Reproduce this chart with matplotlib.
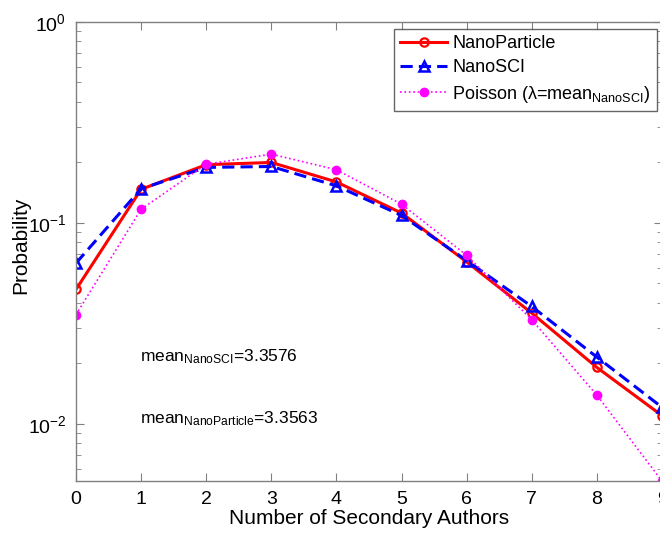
import matplotlib
matplotlib.use("Agg")
import matplotlib.pyplot as plt
from matplotlib.ticker import LogLocator, NullFormatter, FixedLocator

plt.rcParams['font.family'] = ['Liberation Sans', 'DejaVu Sans']
plt.rcParams['mathtext.fontset'] = 'custom'
plt.rcParams['mathtext.rm'] = 'Liberation Sans'
plt.rcParams['mathtext.it'] = 'Liberation Sans:italic'
plt.rcParams['mathtext.sf'] = 'Liberation Sans'
plt.rcParams['mathtext.default'] = 'regular'

x_vals = [0, 1, 2, 3, 4, 5, 6, 7, 8, 9]
nano_particle = [0.0467, 0.147, 0.195, 0.200, 0.160, 0.112, 0.064, 0.0356, 0.0191, 0.0110]
nano_sci = [0.0631, 0.148, 0.189, 0.191, 0.153, 0.109, 0.065, 0.0384, 0.0215, 0.0121]
poisson = [0.035, 0.117, 0.196, 0.220, 0.184, 0.124, 0.069, 0.033, 0.0139, 0.0052]
x_ticks = [0, 1, 2, 3, 4, 5, 6, 7, 8, 9]

fig = plt.figure(figsize=(6.6, 5.34), dpi=100)
ax = fig.add_axes([76/660, 53/534, 586/660, 459/534])

ax.plot(x_vals, nano_particle, '-', color='#ff0000', lw=2.2, marker='o', ms=6,
        mfc='none', mec='#ff0000', mew=1.6, label='NanoParticle')
ax.plot(x_vals, nano_sci, '--', color='#0000ff', lw=2.2, marker='^', ms=7,
        mfc='none', mec='#0000ff', mew=1.8, label='NanoSCI', dashes=(4, 2))
ax.plot(x_vals, poisson, ':', color='#ff00ff', lw=1.2, marker='o', ms=6,
        mfc='#ff00ff', mec='#ff00ff', label=r'Poisson ($\lambda$=mean$_{\mathrm{NanoSCI}}$)')

ax.set_yscale('log')
ax.set_xlim(0, 9)
ax.set_ylim(0.0052, 1)
ax.xaxis.set_major_locator(FixedLocator(x_ticks))
ax.yaxis.set_major_locator(LogLocator(base=10, numticks=10))
ax.yaxis.set_minor_locator(LogLocator(base=10, subs=range(2, 10), numticks=20))
ax.yaxis.set_minor_formatter(NullFormatter())

for sp in ax.spines.values():
    sp.set_color('#808080')
    sp.set_linewidth(1.0)
ax.tick_params(which='both', direction='in', top=True, right=True, color='#808080',
               labelsize=14, labelcolor='black')
ax.tick_params(which='major', length=6, pad=7)
ax.tick_params(which='minor', length=3.5)

ax.set_xlabel('Number of Secondary Authors', fontsize=15)
ax.set_ylabel('Probability', fontsize=15)
ax.xaxis.set_label_coords(0.5, -0.062)
ax.yaxis.set_label_coords(-0.078, 0.514)

ax.text(0.98, 0.0216, r'mean$_{\mathrm{NanoSCI}}$=3.3576', fontsize=12.5, va='center', ha='left')
ax.text(0.98, 0.0106, r'mean$_{\mathrm{NanoParticle}}$=3.3563', fontsize=12.5, va='center', ha='left')

leg = ax.legend(loc='upper right', bbox_to_anchor=(0.9915, 0.985), fontsize=13,
                frameon=True, fancybox=False, edgecolor='#404040', handlelength=2.6,
                borderpad=0.35, labelspacing=0.4, handletextpad=0.3, borderaxespad=0.0)
leg.get_frame().set_linewidth(1.0)

fig.savefig('out.png', dpi=100)
